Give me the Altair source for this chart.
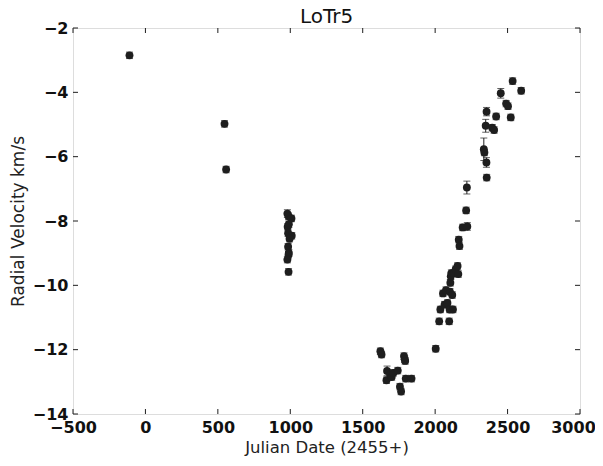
import altair as alt
import pandas as pd

jd = [-110, 546, 557,
      980, 988, 1008, 982, 990, 985, 1010, 995, 985, 990, 988, 980, 988,
      1622, 1630, 1664, 1668, 1690, 1700, 1712, 1742, 1757, 1765, 1785, 1790, 1793, 1797, 1837,
      2004, 2028, 2036, 2054, 2065, 2075, 2085, 2097, 2100, 2102, 2105, 2108, 2112, 2118, 2123,
      2130, 2142, 2155, 2160, 2163, 2168, 2190, 2214, 2219, 2222,
      2336, 2340, 2354, 2356, 2355, 2349, 2394, 2407, 2421, 2453, 2490, 2503, 2522, 2535, 2594]
rv = [-2.85, -4.98, -6.40,
      -7.77, -7.85, -7.92, -8.18, -8.10, -8.38, -8.46, -8.55, -8.80, -8.99, -9.05, -9.20, -9.58,
      -12.05, -12.15, -12.95, -12.66, -12.78, -12.85, -12.72, -12.65, -13.15, -13.30, -12.20, -12.30, -12.35, -12.90, -12.90,
      -11.97, -11.12, -10.75, -10.25, -10.60, -10.15, -10.55, -11.12, -10.75, -10.20, -9.92, -9.72, -9.62, -10.30, -10.75,
      -9.62, -9.50, -9.40, -9.65, -8.58, -8.78, -8.20, -7.67, -6.96, -8.17,
      -5.77, -5.87, -6.18, -6.65, -4.60, -5.04, -5.10, -5.17, -4.75, -4.03, -4.35, -4.43, -4.78, -3.65, -3.95]
err = [0.1, 0.1, 0.1,
       0.12, 0.1, 0.1, 0.1, 0.1, 0.1, 0.1, 0.1, 0.1, 0.1, 0.1, 0.1, 0.1,
       0.1, 0.1, 0.1, 0.15, 0.1, 0.1, 0.1, 0.1, 0.1, 0.1, 0.1, 0.1, 0.1, 0.1, 0.1,
       0.1, 0.1, 0.1, 0.1, 0.1, 0.1, 0.1, 0.1, 0.1, 0.1, 0.1, 0.1, 0.1, 0.1, 0.1,
       0.1, 0.1, 0.1, 0.1, 0.1, 0.1, 0.1, 0.1, 0.2, 0.12,
       0.35, 0.1, 0.15, 0.1, 0.13, 0.2, 0.1, 0.1, 0.1, 0.15, 0.1, 0.1, 0.1, 0.1, 0.1]

x_ticks = [-500, 0, 500, 1000, 1500, 2000, 2500, 3000]
y_ticks = [-14, -12, -10, -8, -6, -4, -2]

df = pd.DataFrame({"jd": jd, "rv": rv, "err": err})
df["lo"] = df["rv"] - df["err"]
df["hi"] = df["rv"] + df["err"]

W, H = 507, 386
FONT = "DejaVu Sans"
INK = "#1e1e1e"
xs = alt.Scale(domain=[-500, 3000], nice=False, zero=False)
ys = alt.Scale(domain=[-14, -2], nice=False, zero=False)

base = alt.Chart(df)
xaxis = alt.Axis(values=x_ticks, format="d", ticks=False, domain=False, grid=False,
                 labelFont=FONT, labelFontWeight="bold", labelFontSize=16, labelColor="#111",
                 labelPadding=5, title="Julian Date (2455+)", titleFont=FONT,
                 titleFontWeight="normal", titleFontSize=16.5, titleColor="#222", titlePadding=4,
                 labelFlush=False,
                 labelOffset={"condition": {"test": "datum.value == 3000", "value": -7}, "value": 0})
yaxis = alt.Axis(values=y_ticks, format="d", ticks=False, domain=False, grid=False,
                 labelFont=FONT, labelFontWeight="bold", labelFontSize=16, labelColor="#111",
                 labelPadding=5, title="Radial Velocity km/s", titleFont=FONT,
                 titleFontWeight="normal", titleFontSize=17, titleColor="#222", titlePadding=5,
                 labelFlush=False)

bars = base.mark_rule(color=INK, strokeWidth=1).encode(
    x=alt.X("jd:Q", scale=xs, axis=xaxis),
    y=alt.Y("lo:Q", scale=ys, axis=yaxis),
    y2="hi:Q")
cap_lo = base.mark_tick(color=INK, thickness=1, size=7, orient="horizontal").encode(
    x=alt.X("jd:Q", scale=xs), y=alt.Y("lo:Q", scale=ys))
cap_hi = base.mark_tick(color=INK, thickness=1, size=7, orient="horizontal").encode(
    x=alt.X("jd:Q", scale=xs), y=alt.Y("hi:Q", scale=ys))
pts = base.mark_circle(color=INK, opacity=1, size=62).encode(
    x=alt.X("jd:Q", scale=xs), y=alt.Y("rv:Q", scale=ys))

xt = alt.Chart(pd.DataFrame({"t": x_ticks}))
yt = alt.Chart(pd.DataFrame({"t": y_ticks}))
tick_b = xt.mark_rule(color=INK).encode(x=alt.X("t:Q", scale=xs), y=alt.value(H), y2=alt.value(H - 5))
tick_t = xt.mark_rule(color=INK).encode(x=alt.X("t:Q", scale=xs), y=alt.value(0), y2=alt.value(5))
tick_l = yt.mark_rule(color=INK).encode(y=alt.Y("t:Q", scale=ys), x=alt.value(0), x2=alt.value(5))
tick_r = yt.mark_rule(color=INK).encode(y=alt.Y("t:Q", scale=ys), x=alt.value(W), x2=alt.value(W - 5))

chart = alt.layer(bars, cap_lo, cap_hi, pts, tick_b, tick_t, tick_l, tick_r).properties(
    width=W, height=H,
    title=alt.TitleParams("LoTr5", font=FONT, fontSize=20, fontWeight="normal", color="#111",
                          offset=-7, frame="group"),
    padding={"left": 65, "top": 20, "right": 15, "bottom": 44},
    autosize="none",
).configure_view(stroke="#222", strokeWidth=1.2).configure(background="white")

chart.save("out.html", embed_options={"renderer": "svg", "actions": False})
